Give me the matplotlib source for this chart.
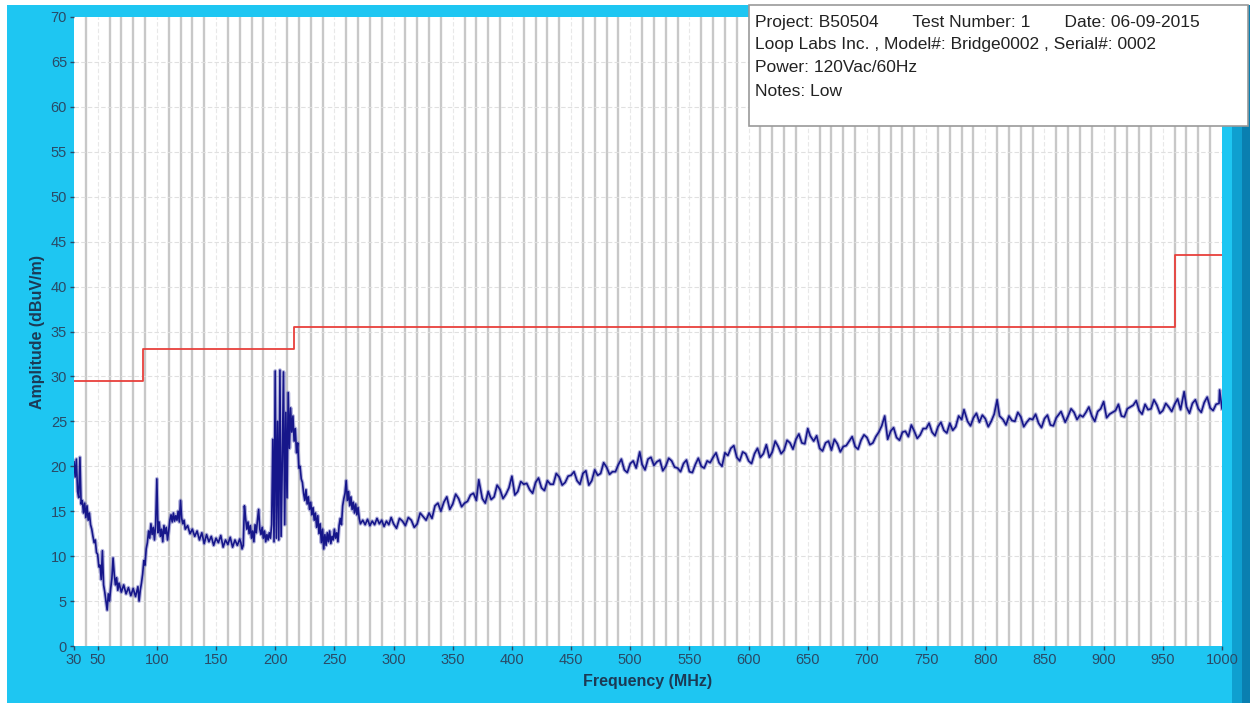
import matplotlib.pyplot as plt
from matplotlib.patches import Rectangle

freq_low = [30, 31, 32, 33, 34, 35, 36, 37, 38, 39, 40, 41, 42, 43, 44, 45, 46, 47, 48, 49,
            50, 51, 52, 53, 54, 55, 56, 57, 58, 59, 60, 61, 62, 63, 64, 65, 66, 67, 68, 70,
            72, 74, 76, 78, 80, 82, 84, 85, 86, 87, 88, 89, 90, 91, 92, 93, 94, 95, 96, 97,
            98, 99, 100, 101, 102, 103, 104, 105, 106, 107, 108, 109, 110, 111, 112, 113, 114, 115, 116, 117,
            118, 119, 120, 121, 122, 123, 124, 126, 128, 130, 132, 134, 136, 138, 140, 142, 144, 146, 148, 150,
            152, 154, 156, 158, 160, 162, 164, 166, 168, 170, 171, 172, 173, 174, 175, 176, 177, 178, 179, 180,
            181, 182, 183, 184, 185, 186, 187, 188, 189, 190, 191, 192, 193, 194, 195, 196, 197, 198, 199, 200,
            201, 202, 203, 204, 205, 206, 207, 208, 209, 210, 211, 212, 213, 214, 215, 216, 217, 218, 219, 220,
            221, 222, 223, 224, 225, 226, 227, 228, 229, 230, 231, 232, 233, 234, 235, 236, 237, 238, 239, 240,
            241, 242, 243, 244, 245, 246, 247, 248, 249, 250, 251, 252, 253, 254, 255, 256, 257, 258, 259, 260,
            261, 262, 263, 264, 265, 266, 267, 268, 269, 270, 271, 272, 274, 276, 278, 280, 282, 284, 286, 288,
            290, 292, 294, 296, 298]
amp_low = [20.5, 18.8, 20.8, 17.2, 16.5, 21.0, 15.8, 16.2, 14.8, 15.9, 14.3, 15.6, 14.0, 14.8, 13.5, 13.0, 12.2, 11.5, 11.8, 10.4,
           10.2, 8.8, 9.0, 7.4, 10.6, 6.8, 6.0, 5.0, 4.0, 5.8, 5.0, 6.4, 7.5, 9.8, 8.0, 6.8, 7.6, 6.2, 7.0, 6.0,
           6.8, 5.8, 6.5, 5.6, 6.4, 5.5, 6.6, 5.0, 6.2, 7.0, 8.0, 9.5, 9.0, 10.8, 11.5, 12.8, 12.0, 13.6, 12.4, 13.2,
           11.8, 13.5, 18.6, 12.6, 13.8, 12.2, 13.0, 11.6, 13.4, 12.5, 13.2, 11.8, 12.8, 14.0, 14.6, 13.8, 14.8, 13.9, 14.5, 14.0,
           15.0, 13.8, 16.2, 14.2, 13.6, 14.0, 13.0, 13.4, 12.5, 13.0, 12.2, 12.8, 11.8, 12.6, 11.4, 12.4, 11.6, 12.2, 11.2, 12.0,
           11.5, 12.3, 11.0, 11.8, 11.3, 12.1, 11.0, 11.8, 11.2, 11.9, 11.5, 10.8, 11.2, 15.6, 14.2, 13.0, 13.8, 12.5, 13.4, 12.0,
           12.8, 11.6, 13.5, 12.6, 14.0, 15.2, 13.0, 12.4, 13.2, 12.0, 12.8, 11.6, 12.4, 11.8, 12.6, 12.0, 13.5, 23.0, 11.6, 30.6,
           12.0, 25.0, 11.8, 30.7, 12.2, 20.5, 30.5, 13.5, 26.0, 16.5, 28.2, 22.0, 26.5, 23.8, 25.6, 22.8, 24.2, 21.5, 22.6, 19.8,
           20.0, 18.6, 18.2, 17.0, 16.2, 17.4, 15.8, 16.6, 15.2, 16.0, 14.6, 15.4, 14.0, 14.8, 13.2, 14.5, 12.5, 13.6, 11.5, 13.0,
           10.8, 12.4, 11.2, 12.6, 11.6, 12.8, 11.4, 12.2, 11.8, 13.0, 12.0, 12.6, 11.6, 13.4, 14.2, 13.5, 15.6, 16.4, 17.0, 18.4,
           16.2, 17.2, 15.6, 16.6, 15.2, 16.0, 14.8, 15.8, 14.6, 15.4, 14.2, 13.6, 14.0, 13.5, 14.1, 13.4, 13.9, 13.5, 14.2, 13.6,
           14.0, 13.3, 13.9, 13.5, 14.3]

freq_high = [300, 305, 310, 315, 320, 325, 330, 335, 340, 345, 350, 355, 360, 365, 370, 372, 375, 380, 385, 390,
             395, 400, 405, 410, 415, 420, 425, 430, 435, 440, 445, 450, 455, 460, 465, 470, 475, 480, 485, 490,
             495, 500, 505, 508, 510, 515, 520, 525, 530, 535, 540, 545, 550, 555, 560, 565, 570, 575, 580, 585,
             590, 595, 600, 605, 610, 615, 620, 625, 630, 635, 640, 645, 650, 652, 655, 660, 665, 670, 675, 680,
             685, 690, 695, 700, 705, 710, 715, 720, 725, 730, 735, 740, 745, 750, 755, 760, 765, 770, 775, 780,
             782, 785, 790, 795, 800, 805, 810, 812, 815, 820, 825, 830, 835, 840, 845, 850, 855, 860, 864, 870,
             875, 880, 885, 890, 895, 900, 905, 910, 915, 920, 925, 930, 935, 940, 945, 950, 955, 960, 965, 968,
             970, 975, 980, 985, 990, 995, 998, 1000]
amp_high = [13.6, 14.2, 13.4, 14.0, 13.6, 14.4, 14.8, 15.6, 15.0, 16.6, 15.8, 16.4, 15.9, 16.8, 16.2, 18.5, 16.4, 17.2, 16.6, 17.4,
            16.9, 18.9, 17.2, 18.0, 17.4, 18.2, 17.6, 18.4, 18.0, 18.8, 18.2, 19.0, 18.4, 19.2, 17.9, 19.6, 19.2, 19.9, 19.4, 20.2,
            19.6, 20.3, 19.8, 21.6, 20.2, 20.8, 20.1, 20.7, 20.0, 20.6, 19.8, 20.3, 19.4, 20.2, 20.0, 20.6, 21.0, 20.4, 21.5, 22.0,
            21.0, 21.6, 20.6, 21.4, 21.0, 22.4, 21.6, 22.2, 21.8, 22.6, 23.0, 22.6, 24.2, 23.4, 22.8, 22.0, 22.6, 21.8, 22.5, 22.2,
            22.8, 22.2, 22.9, 23.2, 22.6, 23.8, 25.6, 23.9, 23.2, 23.8, 23.3, 23.9, 23.5, 24.2, 23.8, 24.4, 24.0, 24.8, 24.4, 25.2,
            26.3, 25.0, 25.4, 24.9, 25.3, 25.0, 27.4, 25.6, 25.2, 25.6, 25.0, 25.5, 24.9, 25.2, 24.8, 25.3, 24.6, 25.4, 26.1, 25.6,
            26.0, 25.7, 26.0, 25.6, 26.1, 27.2, 25.8, 26.2, 25.6, 26.4, 26.8, 26.2, 26.9, 26.4, 26.8, 26.2, 26.6, 26.9, 26.3, 28.3,
            26.6, 27.0, 26.4, 27.1, 26.5, 26.9, 28.5, 26.4]

# extra readings between the 5 MHz samples (the noise floor swings)
freq_mid = [302.5, 307.5, 312.5, 317.5, 322.5, 327.5, 332.5, 337.5, 342.5, 347.5, 352.5, 357.5, 362.5, 367.5,
            377.5, 382.5, 387.5, 392.5, 397.5, 402.5, 407.5, 412.5, 417.5, 422.5, 427.5, 432.5, 437.5, 442.5,
            447.5, 452.5, 457.5, 462.5, 467.5, 472.5, 477.5, 482.5, 487.5, 492.5, 497.5, 502.5, 512.5, 517.5,
            522.5, 527.5, 532.5, 537.5, 542.5, 547.5, 552.5, 557.5, 562.5, 567.5, 572.5, 577.5, 582.5, 587.5,
            592.5, 597.5, 602.5, 607.5, 612.5, 617.5, 622.5, 627.5, 632.5, 637.5, 642.5, 647.5, 657.5, 662.5,
            667.5, 672.5, 677.5, 682.5, 687.5, 692.5, 697.5, 702.5, 707.5, 712.5, 717.5, 722.5, 727.5, 732.5,
            737.5, 742.5, 747.5, 752.5, 757.5, 762.5, 767.5, 772.5, 777.5, 787.5, 792.5, 797.5, 802.5, 807.5,
            817.5, 822.5, 827.5, 832.5, 837.5, 842.5, 847.5, 852.5, 857.5, 867.5, 872.5, 877.5, 882.5, 887.5,
            892.5, 897.5, 902.5, 907.5, 912.5, 917.5, 922.5, 927.5, 932.5, 937.5, 942.5, 947.5, 952.5, 957.5,
            962.5, 972.5, 977.5, 982.5, 987.5, 992.5, 997.5]
amp_mid = [13.1, 13.9, 14.3, 13.2, 14.8, 14.0, 14.2, 15.9, 16.0, 15.2, 16.9, 15.5, 16.1, 17.0,
           15.9, 16.3, 17.9, 16.4, 17.6, 16.8, 18.3, 18.1, 17.0, 18.7, 17.3, 18.0, 19.2, 17.9,
           18.9, 19.4, 18.0, 19.5, 18.4, 19.0, 20.4, 19.1, 19.4, 20.8, 19.3, 20.6, 19.6, 21.0,
           20.5, 19.5, 20.9, 19.9, 19.4, 20.7, 19.3, 20.9, 19.8, 20.4, 21.5, 20.0, 21.2, 22.3,
           20.6, 21.4, 20.3, 22.0, 21.4, 21.0, 22.8, 21.4, 22.9, 21.9, 23.6, 22.5, 23.4, 21.7,
           22.8, 23.0, 21.6, 22.3, 23.3, 21.9, 23.5, 22.4, 23.3, 24.5, 23.0, 24.3, 22.9, 23.9,
           24.6, 23.1, 24.2, 24.8, 23.4, 24.9, 23.7, 24.0, 25.6, 24.5, 25.9, 25.7, 24.4, 25.8,
           24.6, 25.1, 26.0, 24.4, 25.3, 25.8, 24.3, 25.7, 24.5, 24.9, 26.4, 25.2, 25.5, 26.6,
           25.0, 26.4, 25.4, 26.0, 26.9, 25.5, 26.6, 27.3, 25.8, 26.3, 27.4, 25.9, 27.0, 26.1,
           27.5, 25.9, 27.4, 26.0, 27.7, 26.2, 27.0]

# limit line steps
limit_freq = [30, 88, 88, 216, 216, 960, 960, 1000]
limit_amp = [29.5, 29.5, 33.0, 33.0, 35.5, 35.5, 43.5, 43.5]

xticks = [30, 50, 100, 150, 200, 250, 300, 350, 400, 450, 500, 550, 600, 650, 700, 750, 800, 850, 900, 950, 1000]
yticks = list(range(0, 71, 5))

info_lines = ["Project: B50504       Test Number: 1       Date: 06-09-2015",
              "Loop Labs Inc. , Model#: Bridge0002 , Serial#: 0002",
              "Power: 120Vac/60Hz",
              "Notes: Low"]

# merge the trace readings in frequency order
trace = sorted(zip(freq_low + freq_high + freq_mid, amp_low + amp_high + amp_mid))
trace_f = [p[0] for p in trace]
trace_a = [p[1] for p in trace]

plt.rcParams['font.family'] = ['Liberation Sans', 'DejaVu Sans']

fig = plt.figure(figsize=(12.5, 7.06), dpi=100)
fig.patch.set_facecolor('white')

# cyan frame behind the axes
fig.patches.append(Rectangle((7 / 1250, 3 / 706), 1243 / 1250, 698 / 706, transform=fig.transFigure,
                             facecolor='#1ec6f2', edgecolor='none', zorder=-10))
fig.patches.append(Rectangle((1232 / 1250, 3 / 706), 18 / 1250, 698 / 706, transform=fig.transFigure,
                             facecolor='#0f9fd0', edgecolor='none', zorder=-9))
fig.patches.append(Rectangle((1242 / 1250, 3 / 706), 8 / 1250, 698 / 706, transform=fig.transFigure,
                             facecolor='#0a7fb0', edgecolor='none', zorder=-8))

ax = fig.add_axes([74 / 1250, 1 - 646 / 706, 1148 / 1250, 629 / 706])
ax.set_facecolor('white')

# minor gray lines every 10 MHz, faint major lines at the 50 MHz ticks
minor_x = [f for f in range(40, 1000, 10) if f % 50 != 0]
for f in minor_x:
    ax.axvline(f, color='#c8c8c8', lw=1.7, zorder=1)
for f in xticks[1:-1]:
    ax.axvline(f, color='#e8e8e8', lw=0.8, ls=(0, (4, 2)), zorder=1)
for v in yticks[1:-1]:
    ax.axhline(v, color='#e0e0e0', lw=0.8, ls=(0, (4, 2)), zorder=1)

ax.plot(limit_freq, limit_amp, color='#e8403c', lw=1.3, zorder=3)
# soft halo then the trace itself
ax.plot(trace_f, trace_a, color='#5a5ab4', lw=2.8, alpha=0.45, zorder=4)
ax.plot(trace_f, trace_a, color='#16168a', lw=1.2, zorder=5)

ax.set_xlim(30, 1000)
ax.set_ylim(0, 70)
ax.set_xticks(xticks)
ax.set_yticks(yticks)
ax.tick_params(axis='both', labelsize=10.5, colors='#2a4a66', length=3, width=1, pad=2)
for s in ax.spines.values():
    s.set_visible(False)

ax.set_xlabel('Frequency (MHz)', fontsize=11.5, fontweight='bold', color='#1c3a55', labelpad=5)
ax.set_ylabel('Amplitude (dBuV/m)', fontsize=11.5, fontweight='bold', color='#1c3a55', labelpad=4)

# info box, top right
fig.patches.append(Rectangle((749 / 1250, 1 - 126 / 706), 499 / 1250, 121 / 706, transform=fig.transFigure,
                             facecolor='white', edgecolor='#9a9a9a', lw=1.2, zorder=5))
for i, line in enumerate(info_lines):
    fig.text(755 / 1250, 1 - (22 + i * 23) / 706, line, fontsize=12.5, color='#222222',
             va='center', ha='left', zorder=6)

plt.savefig('out.png', dpi=100, facecolor=fig.get_facecolor())
